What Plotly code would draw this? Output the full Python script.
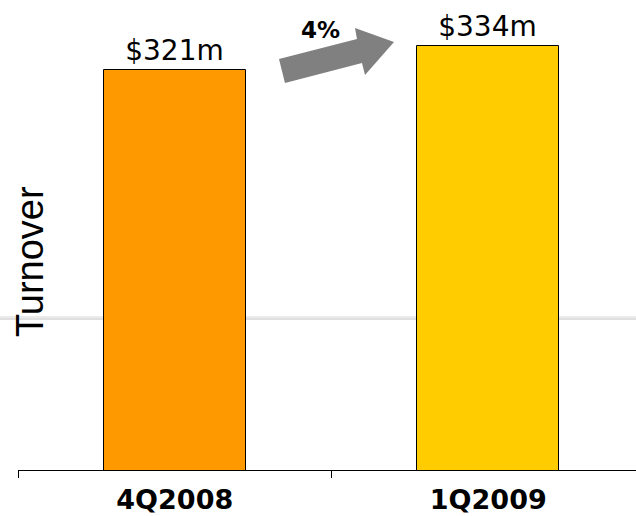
import plotly.graph_objects as go

categories = ["4Q2008", "1Q2009"]
turnover = [321, 334]
value_labels = ["$321m", "$334m"]
bar_colors = ["#FF9900", "#FFCC00"]
growth_label = "4%"
axis_title = "Turnover"

W, H = 636, 516
ML, MR, MT, MB = 18, 0, 20, 46
PW, PH = W - ML - MR, H - MT - MB

def px(x):
    return (x - ML) / PW

def py(y):
    return (H - MB - y) / PH

fig = go.Figure()
fig.add_trace(go.Bar(
    x=categories, y=turnover,
    marker=dict(color=bar_colors, line=dict(color="#000000", width=1)),
    width=0.453,
    text=value_labels, textposition="outside",
    textfont=dict(family="DejaVu Sans", size=28, color="#000000"),
    cliponaxis=False,
    hoverinfo="skip",
))

# arrow path (pixel -> paper)
pts = [(279, 59), (357, 39), (355, 28), (394, 42), (365, 75), (362, 63), (285, 83)]
path = "M " + " L ".join(f"{px(a):.4f},{py(b):.4f}" for a, b in pts) + " Z"

shapes = [
    dict(type="line", xref="paper", yref="paper", x0=px(0), x1=px(W), y0=py(318), y1=py(318),
         line=dict(color="rgba(225,225,225,0.7)", width=4), layer="below"),
    dict(type="line", xref="paper", yref="paper", x0=px(0), x1=px(W), y0=py(319), y1=py(319),
         line=dict(color="rgba(210,210,210,0.6)", width=1.5), layer="below"),
    dict(type="path", xref="paper", yref="paper", path=path,
         fillcolor="#808080", line=dict(width=0)),
]

annotations = [
    dict(text="<b>" + growth_label + "</b>", xref="paper", yref="paper", x=px(320), y=py(30),
         xanchor="center", yanchor="middle",
         showarrow=False, font=dict(family="DejaVu Sans", size=23, color="#000000")),
    dict(text=axis_title, xref="paper", yref="paper", x=px(30), y=py(262),
         xanchor="center", yanchor="middle",
         showarrow=False, textangle=-90,
         font=dict(family="Arial, Liberation Sans", size=38, color="#000000")),
]

fig.update_layout(
    width=W, height=H,
    margin=dict(l=ML, r=MR, t=MT, b=MB, autoexpand=False),
    paper_bgcolor="white", plot_bgcolor="white",
    showlegend=False,
    bargap=0,
    shapes=shapes,
    annotations=annotations,
    xaxis=dict(
        type="category", range=[-0.5, -0.5 + PW / 313.5],
        tickson="boundaries", ticks="outside", ticklen=7, tickcolor="#000000",
        showline=True, linecolor="#000000", linewidth=1,
        showgrid=False, zeroline=False, automargin=False,
        tickvals=categories,
        ticktext=["<b>" + c + "</b>" for c in categories],
        tickfont=dict(family="DejaVu Sans", size=27, color="#000000"),
        ticklabelstandoff=6,
    ),
    yaxis=dict(
        range=[104.3, 104.3 + PH / (24 / 13)], automargin=False,
        showticklabels=False, showgrid=False, zeroline=False, showline=False, ticks="",
    ),
)

fig.write_html("out.html", config={"displayModeBar": False},
               post_script="document.body.style.margin='0';")
